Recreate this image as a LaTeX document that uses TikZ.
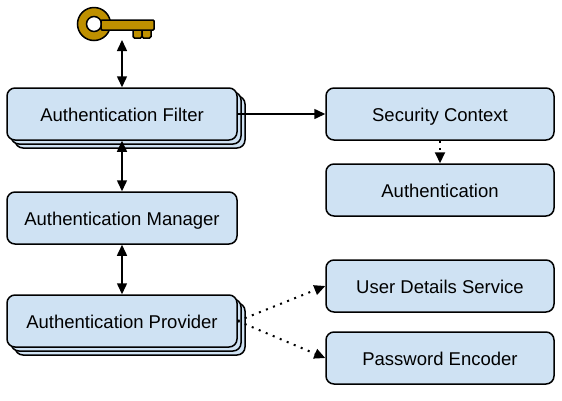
\documentclass[tikz,border=0pt]{standalone}
\usepackage{fontspec}
\setmainfont{Liberation Sans}
\usetikzlibrary{arrows.meta,positioning,shadows}
\definecolor{boxblue}{HTML}{CFE2F3}
\definecolor{keygold}{HTML}{BF9000}
\tikzset{
    box/.style={draw=black,fill=boxblue,line width=1.5pt,rounded corners=8pt,minimum height=52pt,
        inner sep=0pt,text height=15.4pt,text depth=0pt,font=\fontsize{18.5pt}{22pt}\selectfont},
    leftbox/.style={box,minimum width=230pt},
    rightbox/.style={box,minimum width=228pt},
    stacked/.style={double copy shadow={shadow xshift=4pt,shadow yshift=-4pt}},
    link/.style={line width=1.5pt,-{Triangle[length=11pt,width=10pt]}},
    twoway/.style={line width=1.5pt,{Triangle[length=11pt,width=10pt]}-{Triangle[length=11pt,width=10pt]}},
    dots/.style={link,line width=2pt,dash pattern=on 2pt off 5.6pt}
}
\begin{document}
\begin{tikzpicture}[x=1pt,y=-1pt]
        \useasboundingbox (0,0) rectangle (562,400);
        % key
        \draw[fill=keygold,line width=1.5pt,rounded corners=1.5pt] (133,29) rectangle (142,38);
        \draw[fill=keygold,line width=1.5pt,rounded corners=1.5pt] (142,29) rectangle (151,38);
        \draw[fill=keygold,line width=1.5pt,even odd rule] (94,24) circle (16.5) (94,24) circle (7.5);
        \draw[fill=keygold,line width=1.5pt,rounded corners=1pt] (101,20) rectangle (154,30);
        \coordinate(key) at (122,40);

        \node(filter)[leftbox,stacked] at (122,114) {Authentication Filter};
        \node(manager)[leftbox,below=50.5pt of filter] {Authentication Manager};
        \node(provider)[leftbox,stacked,below=49.5pt of manager] {Authentication Provider};
        \node(context)[rightbox] at (440,114) {Security Context};
        \node(auth)[rightbox,below=22.5pt of context] {Authentication};
        \node(details)[rightbox] at (440,286) {User Details Service};
        \node(encoder)[rightbox,below=18.5pt of details] {Password Encoder};

        \draw[twoway] (key) -- (filter);
        \draw[twoway] (filter) -- (manager);
        \draw[twoway] (manager) -- (provider);
        \draw[link] (filter) -- (context);
        \draw[dots] (context) -- (auth);
        \draw[dots] (provider.east) -- (details.west);
        \draw[dots] (provider.east) -- (encoder.west);
    \end{tikzpicture}
\end{document}
